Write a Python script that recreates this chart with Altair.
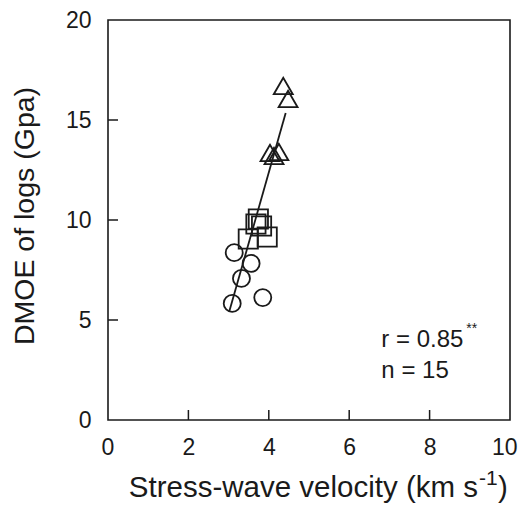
import altair as alt
import pandas as pd

# ---- data ----
tri_x = [4.36, 4.48, 4.03, 4.13, 4.25]
tri_y = [16.7, 16.05, 13.35, 13.2, 13.4]
sq_x = [3.74, 3.82, 3.49, 3.96, 3.68]
sq_y = [10.05, 9.7, 9.05, 9.15, 9.8]
ci_x = [3.14, 3.56, 3.32, 3.09, 3.85]
ci_y = [8.37, 7.83, 7.08, 5.83, 6.12]
line_x = [3.02, 4.42]
line_y = [5.45, 15.35]
x_ticks = [0, 2, 4, 6, 8, 10]
y_ticks = [0, 5, 10, 15, 20]
inner_x_ticks = [2, 4, 6, 8]
inner_y_ticks = [5, 10, 15]
stat_text = ["r = 0.85", "n = 15"]
stat_x = [6.8, 6.8]
stat_y = [3.65, 2.1]

FONT = "Liberation Sans"
INK = "#1a1a1a"
W, H = 402, 400

xs = alt.Scale(domain=[0, 10], nice=False, zero=False)
ys = alt.Scale(domain=[0, 20], nice=False, zero=False)
xax = alt.Axis(values=x_ticks, tickSize=0, domain=False, grid=False, labelFontSize=23,
               labelPadding=16, labelColor=INK, labelFont=FONT, title=None, format="d",
               labelFlush=True, labelFlushOffset=7)
yax = alt.Axis(values=y_ticks, tickSize=0, domain=False, grid=False, labelFontSize=23,
               labelPadding=17, labelColor=INK, labelFont=FONT, title=None, format="d",
               labelFlush=False)

def pts(xv, yv, shape, size):
    df = pd.DataFrame({"x": xv, "y": yv})
    return alt.Chart(df).mark_point(shape=shape, size=size, filled=False, stroke=INK,
                                    strokeWidth=1.8, opacity=1).encode(
        x=alt.X("x:Q", scale=xs, axis=xax), y=alt.Y("y:Q", scale=ys, axis=yax))

line = alt.Chart(pd.DataFrame({"x": line_x, "y": line_y})).mark_line(
    color=INK, strokeWidth=1.8).encode(x=alt.X("x:Q", scale=xs, axis=xax),
                                       y=alt.Y("y:Q", scale=ys, axis=yax))

xt = alt.Chart(pd.DataFrame({"t": inner_x_ticks})).mark_rule(color=INK, strokeWidth=1.5).encode(
    x=alt.X("t:Q", scale=xs, axis=xax), y=alt.value(H), y2=alt.value(H - 10))
yt = alt.Chart(pd.DataFrame({"t": inner_y_ticks})).mark_rule(color=INK, strokeWidth=1.5).encode(
    y=alt.Y("t:Q", scale=ys, axis=yax), x=alt.value(0), x2=alt.value(10))

stats = alt.Chart(pd.DataFrame({"x": stat_x, "y": stat_y, "t": stat_text})).mark_text(
    align="left", baseline="alphabetic", font=FONT, fontSize=24, color=INK).encode(
    x=alt.X("x:Q", scale=xs, axis=xax), y=alt.Y("y:Q", scale=ys, axis=yax), text="t:N")
stars = alt.Chart(pd.DataFrame({"x": [6.8], "y": [3.65], "t": ["**"]})).mark_text(
    align="left", baseline="alphabetic", font=FONT, fontSize=14, color=INK, dx=85, dy=-14).encode(
    x=alt.X("x:Q", scale=xs, axis=xax), y=alt.Y("y:Q", scale=ys, axis=yax), text="t:N")

# axis titles as text (superscript needs separate pieces)
xt_main = alt.Chart(pd.DataFrame({"t": ["Stress-wave velocity (km s"]})).mark_text(
    align="right", baseline="alphabetic", font=FONT, fontSize=29.5, color=INK).encode(
    x=alt.value(370), y=alt.value(477), text="t:N")
xt_sup = alt.Chart(pd.DataFrame({"t": ["-1"]})).mark_text(
    align="left", baseline="alphabetic", font=FONT, fontSize=21, color=INK).encode(
    x=alt.value(371), y=alt.value(465), text="t:N")
xt_end = alt.Chart(pd.DataFrame({"t": [")"]})).mark_text(
    align="left", baseline="alphabetic", font=FONT, fontSize=29.5, color=INK).encode(
    x=alt.value(390), y=alt.value(477), text="t:N")
ytitle = alt.Chart(pd.DataFrame({"t": ["DMOE of logs (Gpa)"]})).mark_text(
    align="center", baseline="middle", font=FONT, fontSize=28.5, color=INK, angle=270).encode(
    x=alt.value(-83), y=alt.value(196), text="t:N")

chart = alt.layer(
    line,
    pts(ci_x, ci_y, "circle", 290),
    pts(sq_x, sq_y, "square", 370),
    pts(tri_x, tri_y, "triangle-up", 360),
    xt, yt, stats, stars, xt_main, xt_sup, xt_end, ytitle,
).properties(
    width=W, height=H,
    autosize=alt.AutoSizeParams(type="none"),
    padding={"left": 100, "top": 12, "right": 8, "bottom": 86},
    background="white",
).configure_view(stroke=INK, strokeWidth=1.6)

chart.save("out.html", embed_options={"renderer": "svg", "actions": False})
